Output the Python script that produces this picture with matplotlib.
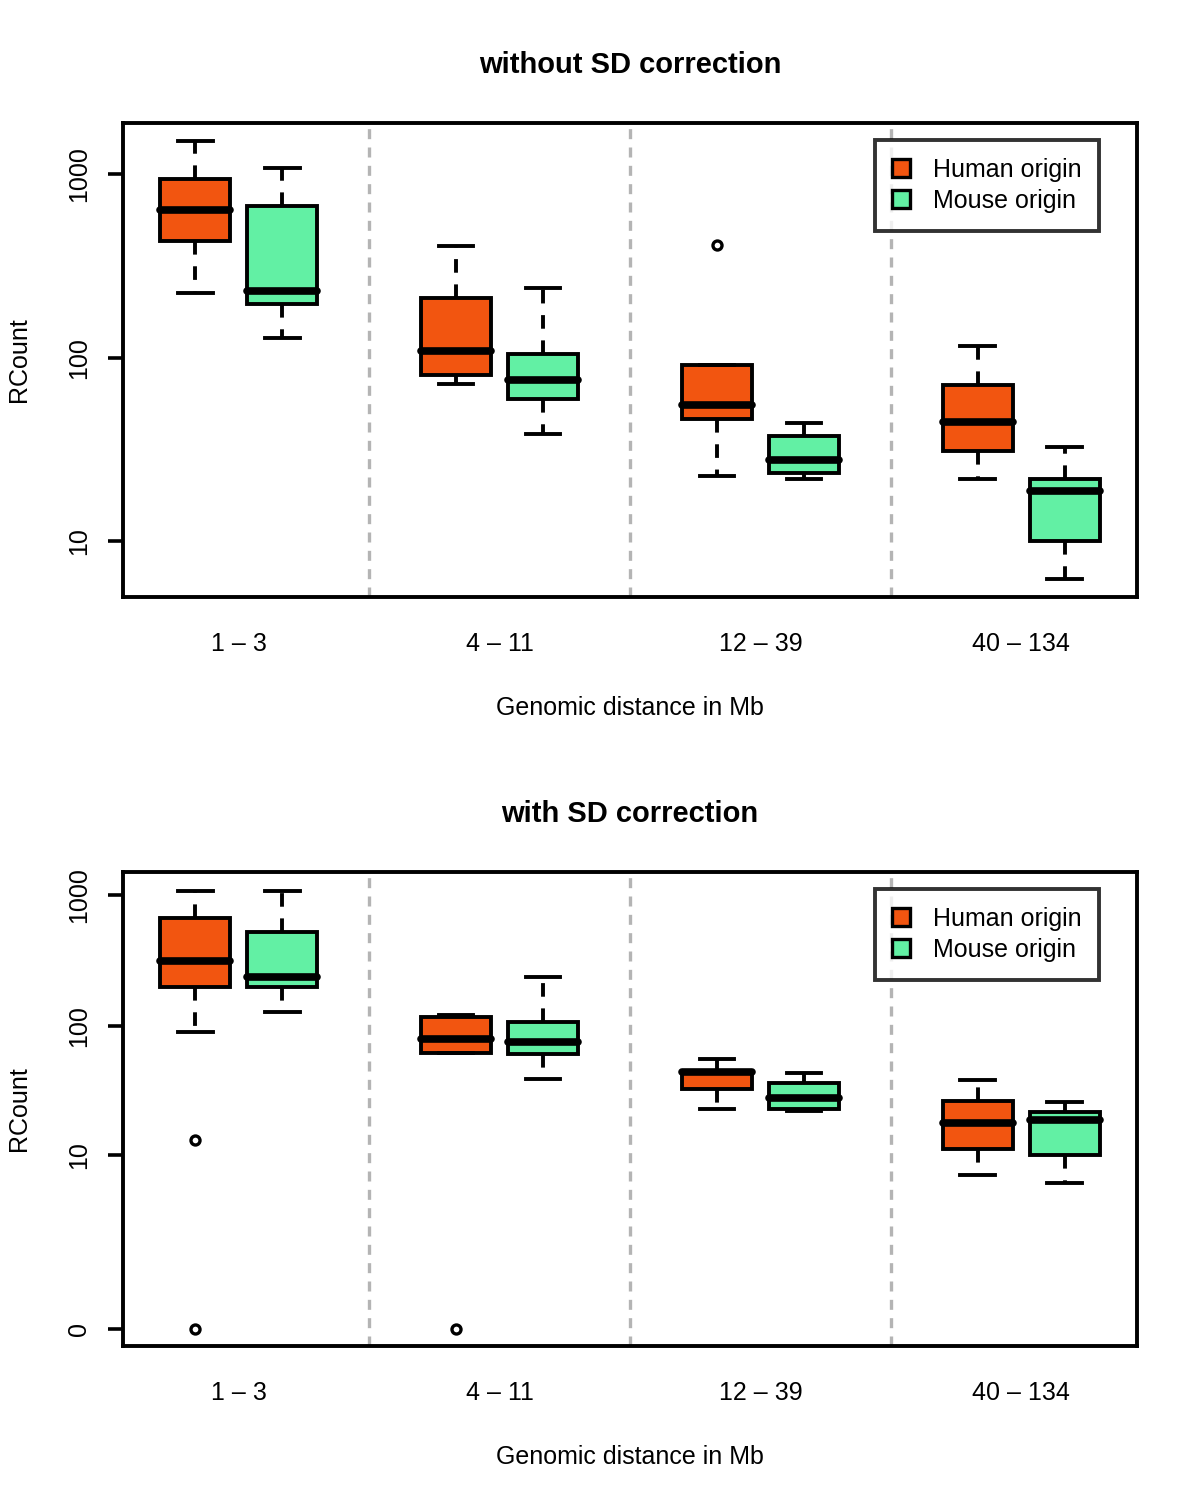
import numpy as np
import matplotlib
matplotlib.use("Agg")
import matplotlib.pyplot as plt
from matplotlib.patches import Patch

plt.rcParams["font.family"] = ["Liberation Sans", "DejaVu Sans"]

GROUPS = ["1 \u2013 3", "4 \u2013 11", "12 \u2013 39", "40 \u2013 134"]
SERIES = ["Human origin", "Mouse origin"]
COLORS = ["#f25510", "#62f0a4"]

# box order: H 1-3, M 1-3, H 4-11, M 4-11, H 12-39, M 12-39, H 40-134, M 40-134
# --- without SD correction ---
top_whislo = [225, 128, 72, 38.5, 22.6, 21.9, 21.8, 6.25]
top_q1 = [434, 196, 80, 59.4, 46.2, 23.6, 30.9, 10.0]
top_med = [637, 230, 108, 75.4, 55.1, 27.6, 44.5, 18.7]
top_q3 = [939, 669, 211, 104.5, 91, 37.3, 70.8, 21.8]
top_whishi = [1523, 1078, 403, 239, 91, 44, 115.5, 32.5]
top_fliers = [[], [], [], [], [410], [], [], []]

# --- with SD correction ---
bot_whislo = [90.4, 128.6, 62.5, 39.0, 23.0, 22.3, 6.94, 5.97]
bot_q1 = [197.5, 197.5, 62.5, 61.0, 32.7, 23.0, 11.2, 10.0]
bot_med = [315, 236.6, 79.1, 75.0, 44.0, 27.8, 18.0, 18.9]
bot_q3 = [662, 518, 117.8, 106.7, 45.0, 36.7, 26.5, 21.7]
bot_whishi = [1073, 1073, 120.3, 237.9, 56.2, 43.9, 38.5, 26.2]
bot_fliers = [[13.2, 0], [], [0], [], [], [], [], []]

POSITIONS = [1, 2, 4, 5, 7, 8, 10, 11]
GROUP_CENTERS = [1.5, 4.5, 7.5, 10.5]
SEPARATORS = [3, 6, 9]


def make_stats(lo, q1, med, q3, hi, fl):
    return [dict(whislo=a, q1=b, med=c, q3=d, whishi=e, fliers=f)
            for a, b, c, d, e, f in zip(lo, q1, med, q3, hi, fl)]


def draw_panel(ax, stats, title):
    bp = ax.bxp(stats, positions=POSITIONS, widths=0.8, patch_artist=True,
                showfliers=True,
                boxprops=dict(linewidth=2.8, edgecolor="black"),
                medianprops=dict(linewidth=5.5, color="black", solid_capstyle="round"),
                whiskerprops=dict(linewidth=2.8, color="black", linestyle=(0, (3.5, 3))),
                capprops=dict(linewidth=2.8, color="black"),
                capwidths=0.4,
                flierprops=dict(marker="o", markersize=6.5, markerfacecolor="none",
                                markeredgecolor="black", markeredgewidth=2.4))
    for i, box in enumerate(bp["boxes"]):
        box.set_facecolor(COLORS[i % 2])
    for x in SEPARATORS:
        ax.axvline(x, color="#b4b4b4", linestyle=(0, (3, 2.5)), linewidth=2.4, zorder=0)
    ax.set_xlim(0.17, 11.83)
    ax.set_xticks(GROUP_CENTERS)
    ax.set_xticklabels(GROUPS, fontsize=18)
    ax.tick_params(axis="x", length=0, pad=25)
    ax.tick_params(axis="y", length=11, width=2.6, pad=12, labelsize=18)
    for s in ax.spines.values():
        s.set_linewidth(2.8)
    ax.set_xlabel("Genomic distance in Mb", fontsize=18, labelpad=29)
    ax.set_ylabel("RCount", fontsize=18, labelpad=26)
    ax.set_title(title, fontsize=21, fontweight="bold", pad=36)
    handles = [Patch(facecolor=c, edgecolor="black", linewidth=2.4) for c in COLORS]
    leg = ax.legend(handles, SERIES, loc="upper right", bbox_to_anchor=(0.9625, 0.964),
                    fontsize=18, frameon=True, fancybox=False, handlelength=0.72,
                    handleheight=0.72, handletextpad=0.9, borderpad=0.7,
                    labelspacing=0.3, borderaxespad=0)
    leg.get_frame().set_edgecolor("black")
    leg.get_frame().set_linewidth(2.8)


fig = plt.figure(figsize=(12, 15), dpi=100)
ax1 = fig.add_axes([0.1025, 0.602, 0.845, 0.316])
ax2 = fig.add_axes([0.1025, 0.1027, 0.845, 0.316])

ax1.set_yscale("log")
draw_panel(ax1, make_stats(top_whislo, top_q1, top_med, top_q3, top_whishi, top_fliers),
           "without SD correction")
ax1.set_ylim(4.96, 1897)
ax1.set_yticks([10, 100, 1000])
ax1.set_yticklabels(["10", "100", "1000"], rotation=90, va="center")
ax1.minorticks_off()

ax2.set_yscale("function", functions=(lambda v: np.log10(np.asarray(v) + 0.5),
                                      lambda v: 10 ** np.asarray(v) - 0.5))
draw_panel(ax2, make_stats(bot_whislo, bot_q1, bot_med, bot_q3, bot_whishi, bot_fliers),
           "with SD correction")
ax2.set_ylim(-0.129, 1489)
ax2.set_yticks([0, 10, 100, 1000])
ax2.set_yticklabels(["0", "10", "100", "1000"], rotation=90, va="center")
ax2.minorticks_off()

fig.savefig("out.png", dpi=100)
